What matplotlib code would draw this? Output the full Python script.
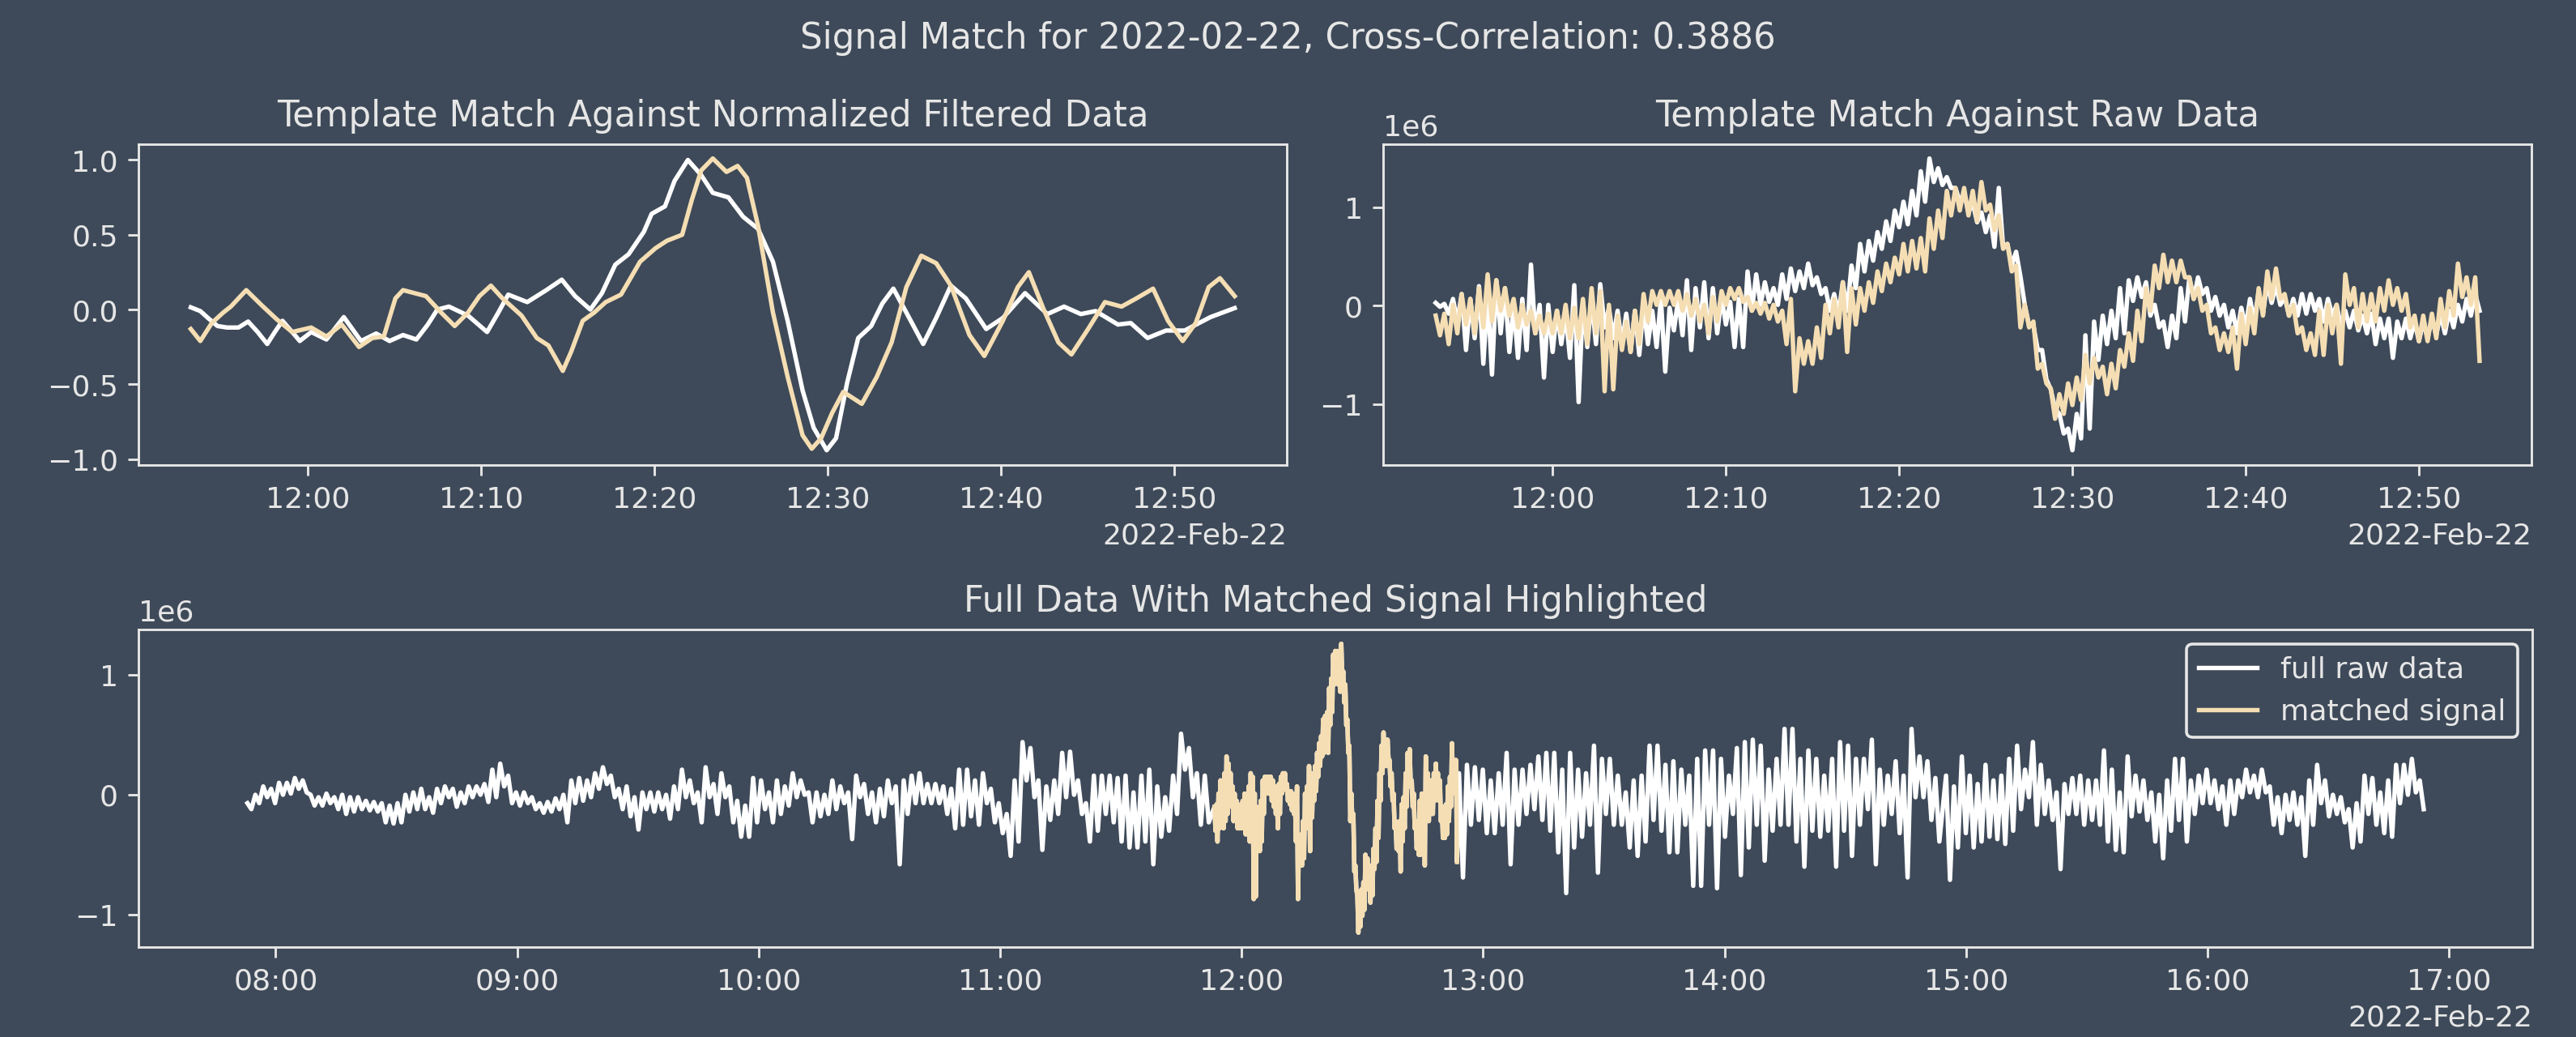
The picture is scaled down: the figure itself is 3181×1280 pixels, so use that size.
"""Signal match figure: template vs data, filtered and raw, plus full day."""
import matplotlib
matplotlib.use('Agg')
import matplotlib.pyplot as plt
import matplotlib.dates as mdates
import numpy as np
import pandas as pd

# Palette
BG = '#3e4a59'
FG = '#e6e6e6'
WHEAT = '#f5deb3'

DPI = 261
W, H = 3181.4 / DPI, 1280.4 / DPI

DAY = '2022-02-22'
T0 = pd.Timestamp(DAY + ' 12:00:00')

# ─── top left: normalized filtered series (minutes after 12:00, value) ───
tmpl_filt = [
    (-6.75, 0.015), (-6.2, -0.01), (-5.76, -0.056), (-5.21, -0.11), (-4.66, -0.12),
    (-4.0, -0.12), (-3.44, -0.08), (-2.89, -0.15), (-2.34, -0.23), (-1.9, -0.15),
    (-1.46, -0.075), (-0.9, -0.15), (-0.46, -0.21), (0.2, -0.15), (1.08, -0.2),
    (2.08, -0.05), (3.07, -0.21), (3.95, -0.16), (4.72, -0.21), (5.5, -0.17),
    (6.27, -0.2), (6.93, -0.1), (7.48, 0.0), (8.15, 0.02), (9.25, -0.04),
    (10.35, -0.15), (11.0, -0.02), (11.57, 0.10), (12.67, 0.05), (13.77, 0.13),
    (14.66, 0.2), (15.43, 0.09), (16.31, 0.0), (16.98, 0.11), (17.75, 0.3),
    (18.52, 0.37), (19.4, 0.52), (19.85, 0.64), (20.62, 0.69), (21.17, 0.86),
    (21.94, 1.0), (22.7, 0.9), (23.38, 0.78), (24.28, 0.75), (25.13, 0.62),
    (25.99, 0.54), (26.85, 0.32), (27.7, -0.075), (28.56, -0.54), (29.2, -0.79),
    (29.95, -0.94), (30.49, -0.86), (31.13, -0.49), (31.77, -0.19), (32.52, -0.11),
    (33.16, 0.04), (33.8, 0.14), (34.55, -0.02), (35.52, -0.23), (36.27, -0.056),
    (37.12, 0.16), (37.98, 0.075), (39.16, -0.13), (40.12, -0.056), (41.4, 0.11),
    (42.69, -0.03), (43.65, 0.02), (44.62, -0.03), (45.47, -0.01), (46.76, -0.10),
    (47.5, -0.09), (48.47, -0.19), (49.54, -0.14), (50.61, -0.14), (52.11, -0.05),
    (53.5, 0.01),
]
data_filt = [
    (-6.75, -0.13), (-6.2, -0.21), (-5.54, -0.09), (-4.88, -0.02), (-4.44, 0.02),
    (-3.55, 0.13), (-2.67, 0.03), (-1.79, -0.065), (-0.9, -0.15), (0.2, -0.12),
    (1.08, -0.18), (1.96, -0.10), (2.96, -0.25), (3.73, -0.19), (4.39, -0.18),
    (5.06, 0.075), (5.5, 0.13), (6.82, 0.09), (7.7, -0.02), (8.48, -0.11),
    (9.25, -0.02), (9.91, 0.09), (10.57, 0.16), (11.24, 0.075), (12.34, -0.04),
    (13.22, -0.19), (13.89, -0.24), (14.72, -0.41), (15.21, -0.28), (15.87, -0.075),
    (16.53, -0.02), (17.2, 0.05), (18.08, 0.10), (19.18, 0.32), (20.07, 0.41),
    (20.73, 0.46), (21.61, 0.50), (22.16, 0.73), (22.71, 0.93), (23.38, 1.01),
    (24.17, 0.92), (24.81, 0.96), (25.35, 0.88), (25.99, 0.56), (26.85, -0.02),
    (27.7, -0.45), (28.56, -0.84), (29.09, -0.93), (29.63, -0.86), (30.27, -0.69),
    (30.91, -0.55), (31.98, -0.63), (32.84, -0.45), (33.7, -0.22), (34.55, 0.15),
    (35.41, 0.36), (36.27, 0.31), (37.12, 0.16), (38.19, -0.17), (39.05, -0.31),
    (40.12, -0.075), (40.98, 0.15), (41.62, 0.25), (42.48, 0.0), (43.33, -0.22),
    (44.08, -0.30), (45.04, -0.13), (46.01, 0.05), (46.97, 0.02), (47.83, 0.075),
    (48.79, 0.14), (49.65, -0.075), (50.5, -0.21), (51.25, -0.09), (52.0, 0.15),
    (52.65, 0.21), (53.5, 0.09),
]

# ─── top right: raw values in the matched window, 30 s bins (high, low) x 1e6 ───
MATCH_START, MATCH_END = DAY + ' 11:53:15', DAY + ' 12:53:30'
tmpl_raw = [
    (0.03, -0.01), (0.02, -0.08), (0.07, -0.16), (0.12, -0.45), (0.07, -0.33),
    (0.20, -0.59), (0.12, -0.70), (0.26, -0.28), (0.18, -0.47), (0.01, -0.53),
    (0.07, -0.45), (0.42, -0.28), (0.01, -0.73), (0.01, -0.47), (-0.05, -0.39),
    (-0.08, -0.53), (0.21, -0.98), (0.04, -0.42), (0.07, -0.39), (0.22, -0.22),
    (-0.02, -0.33), (-0.05, -0.39), (-0.08, -0.47), (-0.05, -0.50), (0.01, -0.39),
    (-0.05, -0.42), (0.07, -0.67), (-0.02, -0.25), (0.07, -0.30), (0.26, -0.45),
    (0.18, -0.22), (0.24, -0.33), (0.18, -0.28), (0.09, -0.19), (0.04, -0.42),
    (0.07, -0.42), (0.35, -0.05), (0.32, 0.01), (0.24, 0.04), (0.18, 0.01),
    (0.32, 0.07), (0.38, 0.15), (0.35, 0.18), (0.43, 0.21), (0.29, 0.12),
    (0.18, -0.05), (0.12, -0.08), (0.24, -0.05), (0.41, 0.18), (0.63, 0.35),
    (0.66, 0.46), (0.75, 0.58), (0.86, 0.66), (0.97, 0.80), (1.06, 0.83),
    (1.17, 0.92), (1.37, 1.06), (1.50, 1.26), (1.40, 1.23), (1.31, 1.20),
    (1.20, 1.06), (1.15, 0.95), (1.05, 0.85), (0.95, 0.75), (0.92, 0.60),
    (1.20, 0.60), (0.63, 0.41), (0.55, 0.30), (0.01, -0.20), (-0.20, -0.45),
    (-0.45, -0.75), (-0.85, -1.05), (-1.10, -1.30), (-1.25, -1.47), (-1.10, -1.35),
    (-0.30, -1.25), (-0.16, -0.55), (-0.10, -0.39), (-0.05, -0.33), (0.18, -0.28),
    (0.26, 0.05), (0.29, 0.09), (0.24, -0.10), (0.01, -0.22), (-0.16, -0.42),
    (-0.10, -0.33), (0.18, -0.16), (0.29, 0.07), (0.29, 0.12), (0.18, -0.05),
    (0.09, -0.10), (0.01, -0.22), (-0.05, -0.28), (-0.02, -0.22), (0.07, -0.16),
    (0.15, -0.08), (0.24, 0.03), (0.21, 0.01), (0.09, -0.10), (0.07, -0.10),
    (0.12, -0.08), (0.12, -0.05), (0.07, -0.16), (0.07, -0.10), (0.01, -0.22),
    (-0.05, -0.22), (-0.05, -0.25), (-0.10, -0.28), (-0.08, -0.39), (-0.13, -0.33),
    (-0.13, -0.53), (-0.16, -0.33), (-0.13, -0.33), (-0.16, -0.36), (-0.16, -0.33),
    (-0.13, -0.30), (-0.08, -0.28), (-0.05, -0.22), (0.01, -0.16), (0.07, -0.10),
    (0.12, -0.05),
]
data_raw = [
    (-0.10, -0.30), (-0.08, -0.39), (0.01, -0.28), (0.12, -0.19), (0.07, -0.28),
    (0.18, -0.22), (0.32, -0.16), (0.26, -0.05), (0.18, -0.10), (0.07, -0.22),
    (0.01, -0.19), (-0.05, -0.28), (-0.10, -0.28), (-0.08, -0.28), (-0.05, -0.28),
    (0.01, -0.33), (-0.02, -0.33), (0.07, -0.39), (0.18, -0.28), (0.15, -0.87),
    (0.01, -0.85), (-0.10, -0.45), (-0.16, -0.47), (-0.05, -0.39), (0.12, -0.16),
    (0.15, 0.01), (0.15, 0.01), (0.15, 0.01), (0.15, -0.05), (0.12, -0.10),
    (0.07, -0.16), (0.01, -0.28), (0.09, -0.16), (0.15, 0.01), (0.18, 0.07),
    (0.18, 0.04), (0.09, -0.05), (0.03, -0.08), (0.03, -0.13), (0.01, -0.16),
    (-0.05, -0.39), (0.07, -0.87), (-0.33, -0.59), (-0.36, -0.59), (-0.22, -0.53),
    (0.01, -0.28), (0.07, -0.22), (0.24, -0.47), (0.18, -0.19), (0.18, -0.05),
    (0.24, 0.03), (0.35, 0.15), (0.43, 0.24), (0.49, 0.32), (0.63, 0.35),
    (0.66, 0.38), (0.69, 0.35), (0.89, 0.58), (0.97, 0.69), (1.17, 0.92),
    (1.20, 0.97), (1.20, 0.92), (1.17, 0.86), (1.26, 0.97), (1.03, 0.77),
    (0.92, 0.58), (0.63, 0.35), (0.41, -0.22), (0.01, -0.22), (-0.16, -0.64),
    (-0.59, -0.79), (-0.84, -1.15), (-0.90, -1.10), (-0.79, -1.01), (-0.73, -0.96),
    (-0.50, -0.79), (-0.53, -0.73), (-0.62, -0.90), (-0.59, -0.84), (-0.45, -0.62),
    (-0.28, -0.56), (-0.05, -0.36), (0.18, -0.05), (0.41, 0.18), (0.52, 0.24),
    (0.46, 0.24), (0.46, 0.29), (0.29, 0.07), (0.18, -0.05), (0.01, -0.28),
    (-0.22, -0.45), (-0.28, -0.47), (-0.22, -0.64), (-0.08, -0.39), (-0.02, -0.28),
    (0.18, -0.10), (0.35, 0.07), (0.38, 0.07), (0.12, -0.10), (0.01, -0.28),
    (-0.22, -0.45), (-0.28, -0.50), (-0.05, -0.50), (0.01, -0.28), (0.01, -0.59),
    (0.32, 0.01), (0.18, -0.22), (0.12, -0.16), (0.12, -0.16), (0.18, -0.05),
    (0.26, 0.01), (0.18, -0.05), (0.12, -0.22), (-0.10, -0.36), (-0.10, -0.36),
    (-0.08, -0.33), (0.07, -0.22), (0.15, -0.10), (0.43, 0.09), (0.29, 0.01),
    (0.29, -0.56),
]

# ─── bottom: rest of the day, ~2 min bins (high, low) x 1e6 ───
early_span = (DAY + ' 07:53:00', DAY + ' 09:55:40')
early_raw = [
    (-0.07, -0.12), (0.0, -0.07), (0.07, -0.02), (0.05, -0.07), (0.10, 0.0),
    (0.10, 0.01), (0.14, 0.05), (0.12, 0.02), (0.0, -0.09), (-0.02, -0.09),
    (0.01, -0.07), (-0.02, -0.12), (0.0, -0.16), (-0.02, -0.14), (-0.02, -0.12),
    (-0.05, -0.13), (-0.06, -0.14), (-0.07, -0.23), (-0.09, -0.24), (-0.07, -0.23),
    (0.0, -0.14), (0.02, -0.12), (0.05, -0.12), (-0.02, -0.15), (0.05, -0.07),
    (0.07, -0.02), (0.05, -0.10), (0.02, -0.07), (0.07, -0.02), (0.07, 0.0),
    (0.09, -0.06), (0.21, -0.02), (0.26, 0.07), (0.16, -0.07), (0.02, -0.09),
    (0.02, -0.07), (-0.02, -0.12), (-0.07, -0.15), (-0.06, -0.14), (-0.03, -0.12),
    (0.0, -0.23), (0.12, -0.07), (0.14, -0.05), (0.12, -0.02), (0.18, 0.05),
    (0.23, 0.09), (0.16, -0.02), (0.05, -0.12), (0.07, -0.18), (-0.02, -0.29),
    (0.02, -0.12), (0.02, -0.14), (0.02, -0.12), (0.0, -0.20), (0.07, -0.12),
    (0.21, -0.02), (0.12, -0.07), (0.02, -0.23), (0.23, -0.02), (0.09, -0.16),
    (0.18, -0.02), (0.07, -0.23), (-0.05, -0.35),
]
morning_span = (DAY + ' 09:56:40', DAY + ' 11:51:50')
morning_raw = [
    (-0.09, -0.35), (0.14, -0.23), (0.12, -0.12), (0.02, -0.23), (0.12, -0.16),
    (0.07, -0.09), (0.18, -0.02), (0.12, 0.0), (0.02, -0.23), (0.02, -0.18),
    (0.0, -0.16), (0.12, -0.12), (0.07, -0.07), (0.02, -0.37), (0.16, -0.02),
    (0.09, -0.16), (0.02, -0.23), (0.05, -0.18), (0.12, -0.07), (0.07, -0.58),
    (0.12, -0.16), (0.16, -0.07), (0.18, -0.07), (0.09, -0.07), (0.09, -0.07),
    (0.07, -0.16), (0.05, -0.28), (0.21, -0.25), (0.21, -0.18), (0.12, -0.25),
    (0.18, -0.07), (0.05, -0.23), (-0.07, -0.32), (-0.16, -0.51), (0.12, -0.39),
    (0.44, 0.12), (0.39, -0.02), (0.12, -0.46), (0.07, -0.21), (0.12, -0.16),
    (0.35, -0.02), (0.36, 0.0), (0.12, -0.16), (-0.07, -0.39), (0.16, -0.30),
    (0.16, -0.16), (0.16, -0.23), (0.14, -0.39), (0.16, -0.44), (0.02, -0.44),
    (0.16, -0.39), (0.21, -0.58), (0.07, -0.35), (-0.02, -0.30), (0.16, -0.16),
    (0.51, 0.21), (0.39, -0.02), (0.18, -0.25), (0.16, -0.23),
]
afternoon_span = (DAY + ' 12:54:00', DAY + ' 14:53:20')
afternoon_raw = [
    (0.18, -0.69), (0.25, -0.25), (0.23, -0.21), (0.21, -0.32), (0.12, -0.32),
    (0.18, -0.25), (0.35, -0.58), (0.21, -0.25), (0.21, -0.16), (0.25, -0.12),
    (0.32, -0.21), (0.35, -0.30), (0.35, -0.48), (0.21, -0.82), (0.35, -0.44),
    (0.21, -0.35), (0.18, -0.25), (0.41, -0.65), (0.30, -0.16), (0.30, -0.25),
    (0.16, -0.25), (0.02, -0.44), (0.12, -0.51), (0.16, -0.39), (0.41, -0.21),
    (0.41, -0.30), (0.25, -0.48), (0.28, -0.48), (0.21, -0.25), (0.16, -0.76),
    (0.30, -0.76), (0.37, -0.25), (0.37, -0.78), (0.30, -0.35), (0.16, -0.16),
    (0.39, -0.67), (0.44, -0.44), (0.46, -0.25), (0.41, -0.55), (0.21, -0.30),
    (0.30, -0.25), (0.55, -0.25), (0.55, -0.39), (0.30, -0.60), (0.37, -0.30),
    (0.30, -0.35), (0.16, -0.30), (0.30, -0.60), (0.44, -0.30), (0.41, -0.51),
    (0.30, -0.25), (0.30, -0.12), (0.46, -0.58), (0.21, -0.25), (0.16, -0.16),
    (0.28, -0.32), (0.16, -0.69), (0.55, -0.02), (0.32, -0.02), (0.28, -0.21),
    (0.14, -0.39),
]
late_span = (DAY + ' 14:55:00', DAY + ' 16:53:40')
late_raw = [
    (0.16, -0.71), (0.07, -0.44), (0.32, -0.32), (0.16, -0.44), (0.09, -0.39),
    (0.25, -0.35), (0.12, -0.37), (0.16, -0.41), (0.30, -0.30), (0.41, -0.12),
    (0.21, -0.02), (0.44, -0.25), (0.25, -0.16), (0.12, -0.21), (0.02, -0.62),
    (0.09, -0.16), (0.14, -0.16), (0.16, -0.25), (0.12, -0.21), (0.12, -0.25),
    (0.37, -0.39), (0.21, -0.46), (0.02, -0.48), (0.32, -0.18), (0.16, -0.14),
    (0.12, -0.21), (0.02, -0.39), (0.0, -0.53), (0.12, -0.30), (0.30, -0.21),
    (0.30, -0.39), (0.12, -0.16), (0.16, -0.07), (0.21, -0.07), (0.12, -0.12),
    (0.07, -0.25), (0.12, -0.16), (0.12, -0.02), (0.21, 0.02), (0.16, -0.02),
    (0.21, 0.02), (0.07, -0.25), (-0.02, -0.32), (0.0, -0.21), (0.02, -0.25),
    (-0.02, -0.51), (0.12, -0.25), (0.25, -0.07), (0.12, -0.18), (0.0, -0.16),
    (-0.02, -0.23), (-0.12, -0.44), (-0.07, -0.39), (0.16, -0.16), (0.14, -0.25),
    (0.02, -0.32), (0.12, -0.35), (0.25, -0.07), (0.25, 0.0), (0.30, 0.02),
    (0.12, -0.12),
]


def smooth_series(pairs):
    mins, vals = zip(*pairs)
    t = T0 + pd.to_timedelta(np.array(mins), unit='min')
    return t, np.array(vals)


def band_series(pairs, start, end):
    # each bin contributes its high then its low reading
    vals = np.array(pairs).ravel() * 1e6
    t = pd.date_range(start, end, periods=len(vals))
    return t, vals


def style_axes(ax, title, minute_ticks):
    ax.set_facecolor(BG)
    for s in ax.spines.values():
        s.set_color(FG)
    ax.tick_params(colors=FG, labelcolor=FG)
    ax.yaxis.get_offset_text().set_color(FG)
    ax.set_title(title, color=FG, fontsize=12)
    if minute_ticks:
        loc = mdates.MinuteLocator(byminute=range(0, 60, 10))
    else:
        loc = mdates.HourLocator()
    fmt = mdates.ConciseDateFormatter(loc)
    ax.xaxis.set_major_locator(loc)
    ax.xaxis.set_major_formatter(fmt)
    ax.xaxis.get_offset_text().set_color(FG)


fig = plt.figure(figsize=(W, H), dpi=DPI)
fig.patch.set_facecolor(BG)

ax1 = fig.add_axes([0.0538, 0.5516, 0.4457, 0.3094])
ax2 = fig.add_axes([0.5370, 0.5516, 0.4457, 0.3094])
ax3 = fig.add_axes([0.0538, 0.0867, 0.9292, 0.3063])

# Top left: filtered + normalized
t, v = smooth_series(tmpl_filt)
ax1.plot(t, v, color='white', lw=1.5)
t, v = smooth_series(data_filt)
ax1.plot(t, v, color=WHEAT, lw=1.5)
style_axes(ax1, 'Template Match Against Normalized Filtered Data', True)

# Top right: raw
t, v = band_series(tmpl_raw, MATCH_START, MATCH_END)
ax2.plot(t, v, color='white', lw=1.5)
t, v = band_series(data_raw, MATCH_START, MATCH_END)
ax2.plot(t, v, color=WHEAT, lw=1.5)
style_axes(ax2, 'Template Match Against Raw Data', True)

# Bottom: full day with the matched window highlighted
parts = [band_series(early_raw, *early_span),
         band_series(morning_raw, *morning_span),
         band_series(data_raw, MATCH_START, MATCH_END),
         band_series(afternoon_raw, *afternoon_span),
         band_series(late_raw, *late_span)]
full_t = parts[0][0]
for p in parts[1:]:
    full_t = full_t.append(p[0])
full_v = np.concatenate([p[1] for p in parts])
ax3.plot(full_t, full_v, color='white', lw=1.5, label='full raw data')
mt, mv = parts[2]
ax3.plot(mt, mv, color=WHEAT, lw=1.5, label='matched signal')
style_axes(ax3, 'Full Data With Matched Signal Highlighted', False)
leg = ax3.legend(loc='upper right', facecolor=BG, edgecolor=FG, framealpha=1)
for txt in leg.get_texts():
    txt.set_color(FG)

fig.suptitle(f'Signal Match for {DAY}, Cross-Correlation: 0.3886',
             color=FG, fontsize=12, y=0.963, va='center')

fig.savefig('out.png', dpi=DPI, facecolor=fig.get_facecolor())
